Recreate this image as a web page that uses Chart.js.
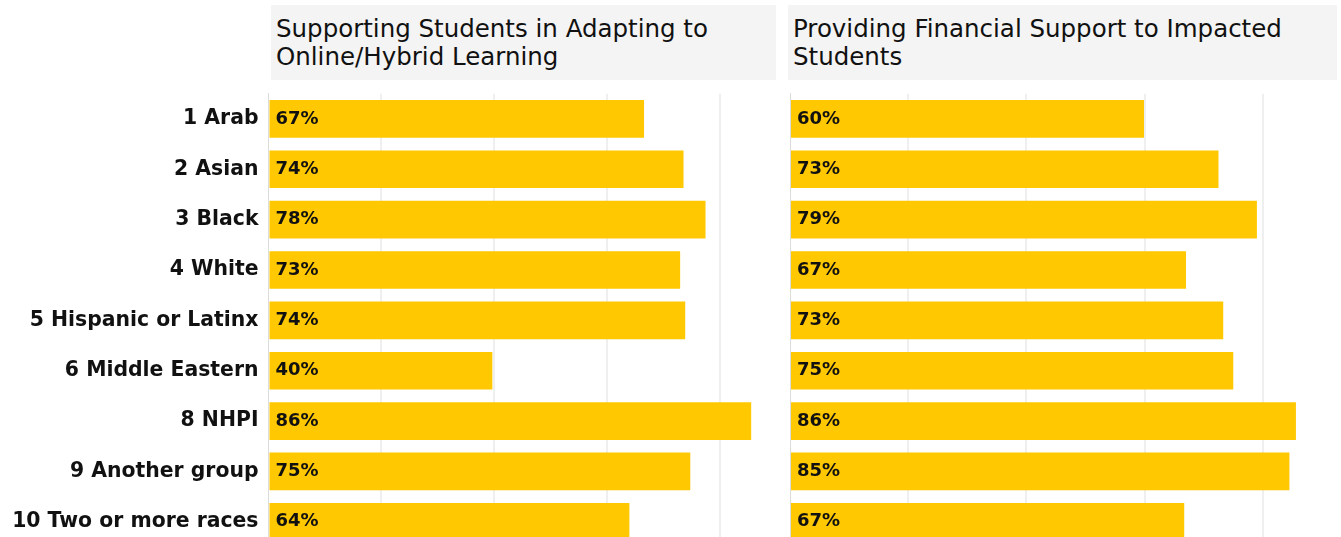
<!DOCTYPE html>
<html>
<head>
<meta charset="utf-8">
<script src="https://cdn.jsdelivr.net/npm/chart.js@4"></script>
<style>
  html, body { margin: 0; padding: 0; background: #fff; overflow: hidden; width: 1341px; height: 537px; }
  .hdr { position: absolute; top: 5px; height: 75px; background: #f4f4f4; box-sizing: border-box;
         padding: 10px 8px 0 5px; font-family: 'DejaVu Sans', sans-serif; font-size: 24.5px; line-height: 28px; color: #111; }
  .box { position: absolute; top: 0; height: 547px; }
</style>
</head>
<body>
<div class="hdr" id="hdrA" style="left:271px;width:505px;"></div>
<div class="hdr" id="hdrB" style="left:788px;width:549px;"></div>
<div class="box" style="left:0;width:780px;"><canvas id="cA"></canvas></div>
<div class="box" style="left:780px;width:561px;"><canvas id="cB"></canvas></div>
<script>
const categories = ["1 Arab", "2 Asian", "3 Black", "4 White", "5 Hispanic or Latinx", "6 Middle Eastern", "8 NHPI", "9 Another group", "10 Two or more races"];
const panelTitles = ["Supporting Students in Adapting to Online/Hybrid Learning", "Providing Financial Support to Impacted Students"];
const onlineLearning = [66.6, 73.6, 77.5, 73.0, 73.9, 39.7, 85.6, 74.8, 64.0];
const financialSupport = [59.9, 72.5, 79.0, 67.0, 73.3, 75.0, 85.6, 84.5, 66.7];
const gridTicks = [20, 40, 60, 80];

document.getElementById('hdrA').textContent = panelTitles[0];
document.getElementById('hdrB').textContent = panelTitles[1];

Chart.defaults.font.family = "'DejaVu Sans', sans-serif";
Chart.defaults.color = '#111';

const barLabels = {
  id: 'barLabels',
  afterDatasetsDraw(chart) {
    const ctx = chart.ctx;
    const meta = chart.getDatasetMeta(0);
    const data = chart.data.datasets[0].data;
    ctx.save();
    ctx.font = "bold 18px 'DejaVu Sans', sans-serif";
    ctx.fillStyle = '#111';
    ctx.textAlign = 'left';
    ctx.textBaseline = 'middle';
    meta.data.forEach((bar, i) => {
      ctx.fillText(Math.round(data[i]) + '%', bar.base + 6, bar.y);
    });
    ctx.restore();
  }
};

function makeChart(id, values, xMax, axisWidth, showLabels) {
  return new Chart(document.getElementById(id), {
    type: 'bar',
    data: {
      labels: categories,
      datasets: [{ data: values, backgroundColor: '#FFC800', borderWidth: 0,
                   categoryPercentage: 1, barPercentage: 0.748 }]
    },
    options: {
      indexAxis: 'y',
      responsive: true,
      maintainAspectRatio: false,
      animation: false,
      layout: { padding: { top: 93.7, right: 4, bottom: 0, left: 0 } },
      plugins: { legend: { display: false }, tooltip: { enabled: false } },
      scales: {
        x: {
          min: 0, max: xMax,
          ticks: { display: false, stepSize: 20 },
          grid: {
            drawTicks: false, lineWidth: 2,
            color: (c) => (c.tick && gridTicks.includes(c.tick.value)) ? '#efefef' : 'rgba(0,0,0,0)'
          },
          border: { display: false }
        },
        y: {
          ticks: { display: showLabels, padding: 10,
                   font: { size: 20.4, weight: 'bold' }, color: '#111' },
          grid: { display: false, drawTicks: false },
          border: { display: true, color: '#dcdcdc', width: 1, dash: [2, 2] },
          afterFit(scale) {
            scale.width = axisWidth;
            scale.paddingTop = 0;
            scale.paddingBottom = 0;
          }
        }
      }
    },
    plugins: [barLabels]
  });
}

makeChart('cA', onlineLearning, 90, 268.5, true);
makeChart('cB', financialSupport, 92.55, 10, false);
</script>
</body>
</html>
